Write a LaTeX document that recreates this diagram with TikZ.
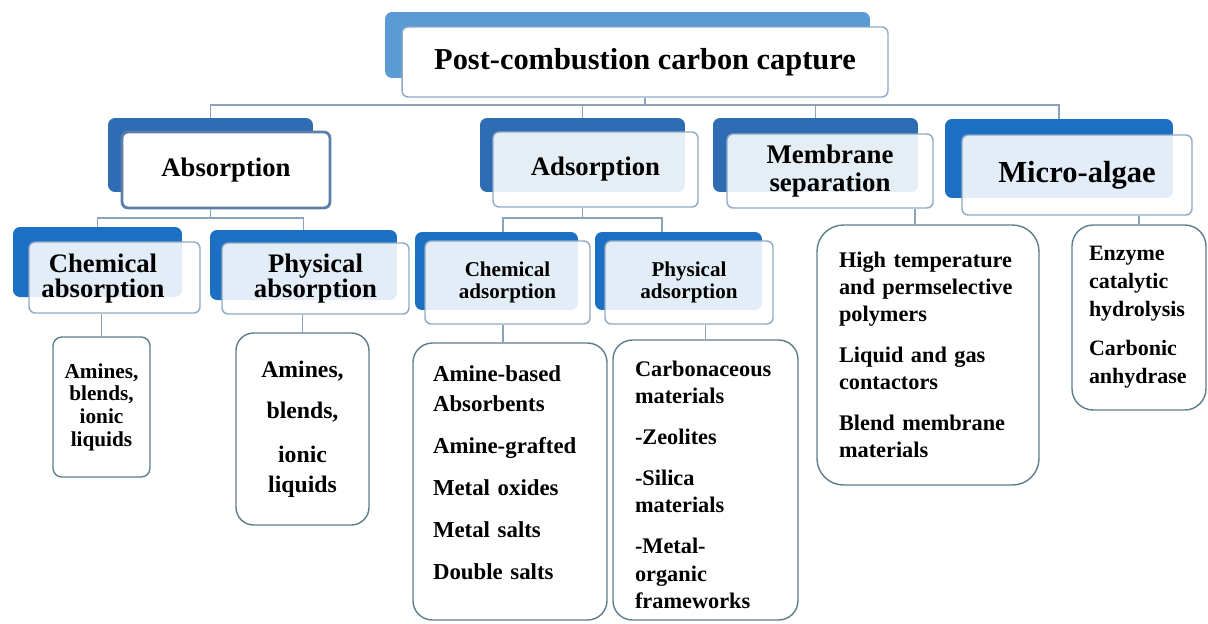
\documentclass[tikz,border=0pt]{standalone}
\usepackage{fontspec}
\setmainfont{Liberation Serif}
\definecolor{bluelight}{HTML}{5B9BD5}
\definecolor{bluedark}{HTML}{2E6DB4}
\definecolor{bluemid}{HTML}{1C6FC3}
\definecolor{frameb}{HTML}{8FA9C4}
\definecolor{frameabs}{HTML}{5B7FA8}
\definecolor{leafb}{HTML}{5F7D8C}
\definecolor{connc}{HTML}{8CA2B8}
\newcommand\myfs[2]{\fontsize{#1}{#2}\selectfont\bfseries}
\begin{document}
\begin{tikzpicture}[x=0.02cm,y=-0.02cm,
  sz/.style 2 args={minimum width=#1cm, minimum height=#2cm},
  backbox/.style={fill=bluedark, draw=none, rounded corners=4pt, inner sep=0pt},
  frontbox/.style={fill=white, fill opacity=0.88, text opacity=1, draw=frameb, line width=0.8pt, rounded corners=3.5pt, inner sep=0pt, align=center},
  leafbox/.style={fill=white, draw=leafb, line width=0.8pt, inner ysep=0pt},
  conn/.style={draw=connc, line width=0.8pt}]
\fill[white] (0,0) rectangle (1208,623);
\useasboundingbox (0,0) rectangle (1208,623);

% top
\node[backbox, fill=bluelight, sz={9.7}{1.32}] (topb) at (627.5,45) {};
\node[frontbox, fill opacity=1, sz={9.72}{1.4}, font=\myfs{17.3}{20}] (top) at (645,62) {Post-combustion carbon capture};

% absorption
\node[backbox, sz={4.1}{1.48}] (absb) at (210.5,155) {};
\node[frontbox, fill opacity=1, draw=frameabs, line width=1.6pt, sz={4.16}{1.52}, font=\myfs{15.2}{17}] (abs) at (226,170) {Absorption};

\node[backbox, fill=bluemid, sz={3.38}{1.4}] (chab) at (97.5,262) {};
\node[frontbox, sz={3.42}{1.42}] (chaf) at (114.5,277.5) {};
\node[font=\myfs{15.2}{14.6}, align=center] (chat) at (103,278.5) {Chemical\\absorption};

\node[backbox, fill=bluemid, sz={3.74}{1.4}] (phab) at (303.5,265) {};
\node[frontbox, sz={3.74}{1.42}, font=\myfs{15.2}{14.6}] (pha) at (315.5,278.5) {Physical\\absorption};

\node[leafbox, rounded corners=5pt, sz={1.94}{2.8}, align=center, font=\myfs{12.1}{12.9}] (chal) at (101.5,407) {Amines,\\blends,\\ionic\\liquids};
\node[leafbox, rounded corners=10pt, sz={2.66}{3.84}, align=center, font=\myfs{13.5}{17}] (phal) at (302.5,429) {Amines,\\[6.3pt]blends,\\[8pt]ionic\\liquids};

% adsorption
\node[backbox, sz={4.1}{1.48}] (adsb) at (582.5,155) {};
\node[frontbox, sz={4.1}{1.5}, font=\myfs{15.2}{17}] (ads) at (595.5,169.5) {Adsorption};

\node[backbox, fill=bluemid, sz={3.26}{1.56}] (chdb) at (496.5,271) {};
\node[frontbox, sz={3.3}{1.66}, font=\myfs{12}{12.8}] (chd) at (507.5,282.5) {Chemical\\adsorption};
\node[backbox, fill=bluemid, sz={3.34}{1.56}] (phdb) at (678.5,271) {};
\node[frontbox, sz={3.36}{1.66}, font=\myfs{12}{12.8}] (phd) at (689,282.5) {Physical\\adsorption};

\node[leafbox, rounded corners=11pt, sz={3.88}{5.54}, text width=3.08cm, inner xsep=0.4cm, align=left, font=\myfs{13}{17.6}] (chdl) at (510,481.5) {Amine-based\\Absorbents\\[6.3pt]Amine-grafted\\[6.3pt]Metal oxides\\[6.3pt]Metal salts\\[6.3pt]Double salts\\[-7.4pt]\mbox{}};
\node[leafbox, rounded corners=11pt, sz={3.7}{5.6}, text width=2.82cm, inner xsep=0.44cm, align=left, font=\myfs{12.7}{15.6}] (phdl) at (705.5,480) {\mbox{}\\[-1.4pt]Carbonaceous\\materials\\[7.7pt]-Zeolites\\[7.7pt]-Silica\\materials\\[7.7pt]-Metal-\\organic\\frameworks};

% membrane
\node[backbox, sz={4.1}{1.48}] (memb) at (815.5,155) {};
\node[frontbox, sz={4.12}{1.48}, font=\myfs{15.3}{16}] (mem) at (830,171) {Membrane\\separation};
\node[leafbox, rounded corners=15pt, sz={4.44}{5.2}, text width=3.56cm, inner xsep=0.44cm, align=left, font=\myfs{12.7}{15.4}] (meml) at (928,355) {High temperature\\and permselective\\polymers\\[8pt]Liquid and gas\\contactors\\[8pt]Blend membrane\\materials};

% micro-algae
\node[backbox, fill=bluemid, sz={4.56}{1.58}] (micb) at (1059,158.5) {};
\node[frontbox, sz={4.6}{1.6}, font=\myfs{17.4}{20}] (mic) at (1077,175) {Micro-algae};
\node[leafbox, rounded corners=12pt, sz={2.68}{3.7}, text width=2.0cm, inner xsep=0.34cm, align=left, font=\myfs{12.5}{15.9}] (micl) at (1139,317.5) {Enzyme\\catalytic\\hydrolysis\\[6.3pt]Carbonic\\anhydrase};

% connectors
\coordinate (a1) at ([xshift=0.13cm]chdb.north);
\coordinate (a2) at ([xshift=-0.33cm]phdb.north);
\coordinate (a3) at ([xshift=-0.14cm]chdl.north);
\coordinate (m1) at ([xshift=-0.26cm]meml.north);
\draw[conn] (top.south) -- (top.south |- 0,105);
\draw[conn] (absb.north) -- (absb.north |- 0,105) -- (micb.north |- 0,105) -- (micb.north);
\draw[conn] (adsb.north) -- (adsb.north |- 0,105);
\draw[conn] (memb.north) -- (memb.north |- 0,105);

\draw[conn] (absb.center |- abs.south) -- (absb.center |- 0,218);
\draw[conn] (chab.north) -- (chab.north |- 0,218) -- (phab.north |- 0,218) -- (phab.north);
\draw[conn] (chal.north |- chaf.south) -- (chal.north);
\draw[conn] (phal.north |- pha.south) -- (phal.north);

\draw[conn] (adsb.center |- ads.south) -- (adsb.center |- 0,218);
\draw[conn] (a1) -- (a1 |- 0,218) -- (a2 |- 0,218) -- (a2);
\draw[conn] (a3 |- chd.south) -- (a3);
\draw[conn] (phdl.north |- phd.south) -- (phdl.north);

\draw[conn] (m1 |- mem.south) -- (m1);
\draw[conn] (micl.north |- mic.south) -- (micl.north);
\end{tikzpicture}
\end{document}
